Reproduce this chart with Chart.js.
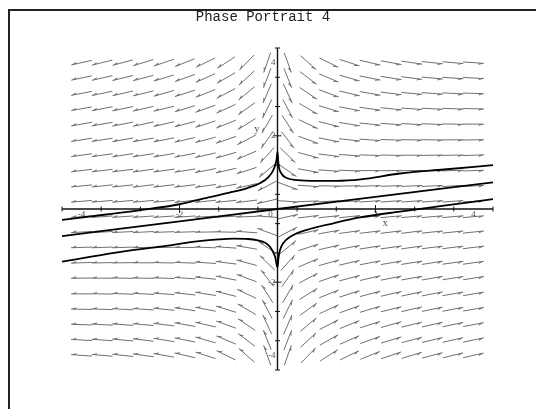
<!DOCTYPE html>
<html>
<head>
<meta charset="utf-8">
<script src="https://cdn.jsdelivr.net/npm/chart.js@4.4.1/dist/chart.umd.min.js"></script>
<style>
  html, body { margin: 0; padding: 0; background: #fff; }
</style>
</head>
<body>
<canvas id="chart" width="536" height="409"></canvas>
<script>
const chartTitle = "Phase Portrait 4";

// direction field grid (20 x 20)
const gridX = [-4, -3.58, -3.16, -2.74, -2.32, -1.89, -1.47, -1.05, -0.63, -0.21,
               0.21, 0.63, 1.05, 1.47, 1.89, 2.32, 2.74, 3.16, 3.58, 4];
const gridY = [4, 3.58, 3.16, 2.74, 2.32, 1.89, 1.47, 1.05, 0.63, 0.21,
               -0.21, -0.63, -1.05, -1.47, -1.89, -2.32, -2.74, -3.16, -3.58, -4];

// arrow direction on screen, degrees counter-clockwise from +x, one row per gridY value
const arrowAngles = [
  [193, 194, 195, 197, 199, 202, 206, 213, 226, 251, -70, -41, -26, -18, -13, -10, -8, -6, -5, -4],
  [192, 193, 194, 195, 197, 200, 204, 210, 223, 249, -68, -37, -23, -16, -11, -9, -7, -5, -4, -3],
  [191, 192, 193, 194, 196, 198, 202, 208, 220, 247, -65, -34, -20, -13, -10, -7, -5, -4, -3, -2],
  [190, 191, 192, 193, 194, 197, 200, 205, 216, 244, -62, -30, -17, -11, -8, -6, -4, -3, -2, -1],
  [190, 190, 191, 192, 193, 195, 198, 202, 212, 240, -57, -25, -14, -9, -6, -4, -3, -2, -1, 0],
  [189, 189, 190, 190, 191, 193, 195, 199, 208, 235, -52, -20, -11, -6, -4, -2, -1, -1, 0, 1],
  [188, 188, 189, 189, 190, 191, 193, 196, 203, 228, -44, -15, -7, -4, -2, -1, 0, 1, 1, 2],
  [187, 187, 187, 188, 188, 189, 191, 193, 198, 220, -34, -10, -4, -2, 0, 1, 1, 2, 2, 2],
  [186, 186, 186, 187, 187, 187, 188, 190, 193, 208, -20, -4, -1, 1, 2, 2, 3, 3, 3, 3],
  [185, 185, 185, 185, 185, 186, 186, 186, 187, 193, -4, 2, 3, 3, 4, 4, 4, 4, 4, 4],
  [184, 184, 184, 184, 184, 184, 183, 183, 182, 176, 13, 7, 6, 6, 6, 5, 5, 5, 5, 5],
  [183, 183, 183, 183, 182, 182, 181, 179, 176, 160, 28, 13, 10, 8, 7, 7, 7, 6, 6, 6],
  [182, 182, 182, 181, 181, 180, 178, 176, 170, 146, 40, 18, 13, 11, 9, 8, 8, 7, 7, 7],
  [182, 181, 181, 180, 179, 178, 176, 173, 165, 136, 48, 23, 16, 13, 11, 10, 9, 9, 8, 8],
  [181, 180, 179, 179, 178, 176, 174, 169, 160, 128, 55, 28, 19, 15, 13, 11, 10, 10, 9, 9],
  [180, 179, 178, 177, 176, 174, 171, 166, 155, 123, 60, 32, 22, 18, 15, 13, 12, 11, 10, 10],
  [179, 178, 177, 176, 174, 172, 169, 163, 150, 118, 64, 36, 25, 20, 17, 14, 13, 12, 11, 10],
  [178, 177, 176, 175, 173, 170, 167, 160, 146, 115, 67, 40, 28, 22, 18, 16, 14, 13, 12, 11],
  [177, 176, 175, 173, 171, 169, 164, 157, 143, 112, 69, 43, 30, 24, 20, 17, 15, 14, 13, 12],
  [176, 175, 174, 172, 170, 167, 162, 154, 139, 110, 71, 46, 33, 26, 22, 19, 17, 15, 14, 13]
];

// solution curves
const upperX = [-4.4, -3.5, -2.8, -2.0, -1.5, -1.0, -0.6, -0.35, -0.18, -0.08, -0.02, 0,
                0.02, 0.08, 0.2, 0.4, 0.8, 1.2, 1.7, 2.5, 3.4, 4.4];
const upperY = [-0.30, -0.15, -0.03, 0.13, 0.29, 0.44, 0.58, 0.71, 0.88, 1.08, 1.34, 1.56,
                1.22, 0.97, 0.84, 0.79, 0.77, 0.77, 0.81, 0.97, 1.08, 1.20];
const middleX = [-4.4, -2, 0, 2, 4.4];
const middleY = [-0.74, -0.34, 0, 0.33, 0.73];
const lowerX = [-4.4, -3.3, -2.4, -1.6, -1.2, -0.9, -0.6, -0.4, -0.25, -0.15, -0.05, 0,
                0.02, 0.05, 0.12, 0.26, 0.6, 1.14, 1.68, 2.5, 3.4, 4.4];
const lowerY = [-1.44, -1.19, -1.03, -0.88, -0.83, -0.81, -0.82, -0.86, -0.92, -1.04, -1.30, -1.60,
                -1.34, -1.13, -0.93, -0.76, -0.57, -0.39, -0.23, -0.07, 0.09, 0.27];

const xTickLabels = [-4, -2, 0, 2, 4];
const yTickLabels = [-4, -2, 2, 4];

const toPoints = (xs, ys) => xs.map((v, i) => ({ x: v, y: ys[i] }));

const curve = (xs, ys) => ({
  data: toPoints(xs, ys),
  showLine: true,
  borderColor: "#000",
  borderWidth: 1.8,
  pointRadius: 0,
  cubicInterpolationMode: "monotone",
});

const ARROW_LEN = 21;

const phasePlugin = {
  id: "phase",
  beforeDatasetsDraw(chart) {
    const { ctx, scales: { x, y } } = chart;
    ctx.save();

    // outer frame (only left and top edges show)
    ctx.strokeStyle = "#222";
    ctx.lineWidth = 2;
    ctx.beginPath();
    ctx.moveTo(9, 409);
    ctx.lineTo(9, 10);
    ctx.lineTo(536, 10);
    ctx.stroke();

    // direction field
    ctx.strokeStyle = "#707070";
    ctx.fillStyle = "#707070";
    ctx.lineWidth = 1;
    gridY.forEach((yv, r) => {
      gridX.forEach((xv, c) => {
        const a = arrowAngles[r][c] * Math.PI / 180;
        const dx = Math.cos(a), dy = -Math.sin(a);
        const cx = x.getPixelForValue(xv), cy = y.getPixelForValue(yv);
        const h = ARROW_LEN / 2;
        const tx = cx + dx * h, ty = cy + dy * h;
        ctx.beginPath();
        ctx.moveTo(cx - dx * h, cy - dy * h);
        ctx.lineTo(tx, ty);
        ctx.stroke();
        ctx.beginPath();
        ctx.moveTo(tx, ty);
        ctx.lineTo(tx - dx * 5.5 - dy * 2, ty - dy * 5.5 + dx * 2);
        ctx.lineTo(tx - dx * 4.5, ty - dy * 4.5);
        ctx.closePath();
        ctx.fill();
      });
    });

    // axes through the origin
    const x0 = x.getPixelForValue(0), y0 = y.getPixelForValue(0);
    ctx.strokeStyle = "#111";
    ctx.lineWidth = 1.4;
    ctx.beginPath();
    ctx.moveTo(x.left, y0); ctx.lineTo(x.right, y0);
    ctx.moveTo(x0, y.top); ctx.lineTo(x0, y.bottom);
    ctx.stroke();

    ctx.lineWidth = 1;
    const isMajor = (v, list) => list.some(t => Math.abs(t - v) < 1e-6);
    x.ticks.forEach(t => {
      const px = x.getPixelForValue(t.value);
      const len = isMajor(t.value, xTickLabels) ? 4 : 2.5;
      ctx.beginPath(); ctx.moveTo(px, y0 - len); ctx.lineTo(px, y0 + len); ctx.stroke();
    });
    y.ticks.forEach(t => {
      const py = y.getPixelForValue(t.value);
      const len = isMajor(t.value, yTickLabels) ? 4 : 2.5;
      ctx.beginPath(); ctx.moveTo(x0 - len, py); ctx.lineTo(x0 + len, py); ctx.stroke();
    });

    ctx.fillStyle = "#555";
    ctx.font = '9px "Liberation Serif"';
    ctx.textAlign = "center";
    ctx.textBaseline = "top";
    xTickLabels.forEach(v => {
      const px = v === 0 ? x0 - 7 : x.getPixelForValue(v);
      ctx.fillText(String(v), px, y0 + 1);
    });
    ctx.textAlign = "right";
    ctx.textBaseline = "middle";
    yTickLabels.forEach(v => ctx.fillText(String(v), x0 - 2, y.getPixelForValue(v)));

    ctx.font = '11px "Liberation Serif"';
    ctx.textAlign = "center";
    ctx.fillText("x", x.getPixelForValue(2.2), y.getPixelForValue(-0.38));
    ctx.fillText("y", x.getPixelForValue(-0.42), y.getPixelForValue(2.19));

    ctx.restore();
  },
  afterDraw(chart) {
    const { ctx } = chart;
    ctx.save();
    ctx.fillStyle = "#222";
    ctx.font = '14px "Liberation Mono"';
    ctx.textAlign = "center";
    ctx.textBaseline = "alphabetic";
    ctx.fillText(chartTitle, 263, 21);
    ctx.restore();
  },
};

new Chart(document.getElementById("chart"), {
  type: "scatter",
  data: {
    datasets: [
      curve(upperX, upperY),
      curve(middleX, middleY),
      curve(lowerX, lowerY),
    ],
  },
  options: {
    responsive: false,
    animation: false,
    layout: { padding: { left: 62, right: 43, top: 48, bottom: 39 } },
    scales: {
      x: { type: "linear", min: -4.4, max: 4.4, display: false, ticks: { stepSize: 0.4 } },
      y: { type: "linear", min: -4.4, max: 4.4, display: false, ticks: { stepSize: 0.4 } },
    },
    plugins: {
      legend: { display: false },
      tooltip: { enabled: false },
    },
  },
  plugins: [phasePlugin],
});
</script>
</body>
</html>
